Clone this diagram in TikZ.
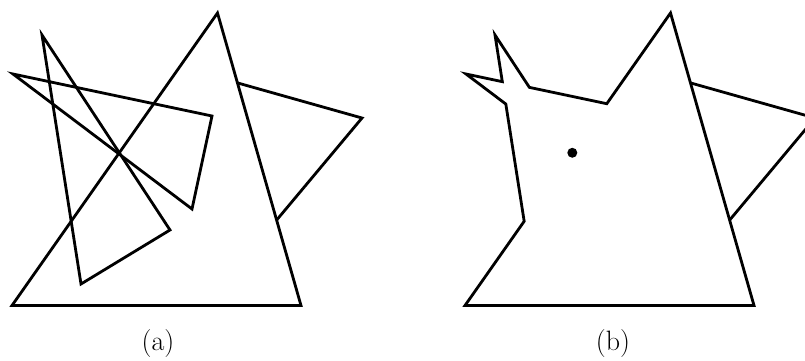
\documentclass[tikz,border=0pt]{standalone}
\usepackage{fontspec}
\usetikzlibrary{calc}
\tikzset{
  edge/.style={line width=2.1pt, line join=miter},
  caption/.style={font=\fontsize{21}{24}\selectfont, inner sep=0pt},
  kernel/.style={fill=black}
}
\newcommand\defpts[1]{%
  \coordinate (#1T1) at (12,305.5);
  \coordinate (#1T2) at (301,305.5);
  \coordinate (#1T3) at (217.5,13);
  \coordinate (#1A) at (42,35);
  \coordinate (#1B) at (81,284);
  \coordinate (#1C) at (170,230);
  \coordinate (#1D) at (13,74);
  \coordinate (#1E) at (212,116);
  \coordinate (#1F) at (192,209);
  \coordinate (#1G) at ($(#1T3)!0.239!(#1T2)$);
  \coordinate (#1H) at (362,118);
  \coordinate (#1I) at ($(#1T3)!0.708!(#1T2)$);
}
\begin{document}
\begin{tikzpicture}[x=0.75pt,y=-0.75pt]
\useasboundingbox (0,0) rectangle (805,360);
\clip (0,0) rectangle (805,360);
% (a)
\begin{scope}
  \defpts{a}
  \draw[edge] (aT1) -- (aT2) -- (aT3) -- cycle;
  \draw[edge] (aA) -- (aB) -- (aC) -- cycle;
  \draw[edge] (aD) -- (aE) -- (aF) -- cycle;
  \draw[edge] (aG) -- (aH) -- (aI);
  \node[caption] (capa) at (158,344) {(a)};
\end{scope}
% (b)
\begin{scope}[xshift=453*0.75pt]
  \defpts{b}
  \coordinate (bX1) at (intersection of bT1--bT3 and bA--bB);
  \coordinate (bX2) at (intersection of bA--bB and bD--bF);
  \coordinate (bX3) at (intersection of bD--bE and bA--bB);
  \coordinate (bX4) at (intersection of bA--bC and bD--bE);
  \coordinate (bX5) at (intersection of bD--bE and bT1--bT3);
  \coordinate (bK) at (intersection of bT1--bT3 and bA--bC);
  \draw[edge] (bT1) -- (bX1) -- (bX2) -- (bD) -- (bX3) -- (bA) -- (bX4)
      -- (bX5) -- (bT3) -- (bT2) -- cycle;
  \draw[edge] (bG) -- (bH) -- (bI);
  \fill[kernel] (bK) circle[radius=3.75pt];
  \node[caption] (capb) at (160,344) {(b)};
\end{scope}
\end{tikzpicture}
\end{document}
